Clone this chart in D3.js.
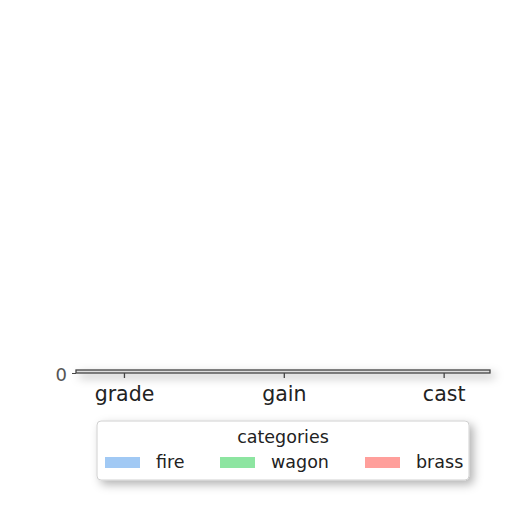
<!DOCTYPE html>
<html>
<head>
<meta charset="utf-8">
<script src="https://cdn.jsdelivr.net/npm/d3@7"></script>
<style>
html,body{margin:0;padding:0;background:#fff;}
svg{display:block;font-family:"DejaVu Sans",sans-serif;}
</style>
</head>
<body>
<svg id="chart" width="512" height="512"></svg>
<script>
const categories = ["grade", "gain", "cast"];
const seriesNames = ["fire", "wagon", "brass"];
const fireValues = [0, 0, 0];
const wagonValues = [0, 0, 0];
const brassValues = [0, 0, 0];
const yTicks = [0];
const colors = ["#a1c9f4", "#8de5a1", "#ff9f9b"];

(function(){
const seriesValues = [fireValues, wagonValues, brassValues];
const svg = d3.select("#chart");

const defs = svg.append("defs");
const f = defs.append("filter").attr("id","shadow").attr("x","-20%").attr("y","-800%").attr("width","140%").attr("height","1800%");
f.append("feDropShadow").attr("dx",4).attr("dy",4).attr("stdDeviation",5)
  .attr("flood-color","#000").attr("flood-opacity",0.3);

const pLeft = 76, pRight = 490, pTop = 370, pBottom = 373;
const x = d3.scaleLinear().domain([-0.3, 2.29]).range([pLeft, pRight]);
const y = d3.scaleLinear().domain([0, 1]).range([pBottom, pTop]);

svg.append("rect").attr("x",pLeft).attr("y",pTop).attr("width",pRight-pLeft).attr("height",pBottom-pTop)
  .attr("fill","#ddd").attr("stroke","#444").attr("stroke-width",1.3).attr("filter","url(#shadow)");

const g = svg.append("g");
const barW = 0.2;
seriesValues.forEach((vals, si) => {
  g.selectAll(null).data(vals).enter().append("rect")
    .attr("x",(d,i)=>x(i + (si-1)*barW - barW/2))
    .attr("width",x(barW)-x(0))
    .attr("y",d=>y(Math.max(d,0)))
    .attr("height",d=>Math.abs(y(0)-y(d)))
    .attr("fill",colors[si]);
});

const xAxis = d3.axisBottom(x).tickValues(categories.map((c,i)=>i)).tickFormat(i=>categories[i]).tickSize(5).tickSizeOuter(0);
const xg = g.append("g").attr("transform",`translate(0,${pBottom})`).call(xAxis);
xg.select(".domain").remove();
xg.selectAll(".tick line").attr("stroke","#444").attr("stroke-width",1.3);
xg.selectAll(".tick text").attr("font-size","20.5px").attr("fill","#222").attr("y",9).attr("dy","0.95em")
  .style("font-family","DejaVu Sans");

const yAxis = d3.axisLeft(y).tickValues(yTicks).tickFormat(d3.format("d")).tickSize(4).tickSizeOuter(0);
const yg = g.append("g").attr("transform",`translate(${pLeft},0)`).call(yAxis);
yg.select(".domain").remove();
yg.selectAll(".tick line").attr("stroke","#444");
yg.selectAll(".tick text").attr("font-size","18px").attr("fill","#555").attr("x",-9).attr("dy","0.4em")
  .style("font-family","DejaVu Sans");

const lg = svg.append("g");
lg.append("rect").attr("x",97).attr("y",421).attr("width",372).attr("height",59).attr("rx",4)
  .attr("fill","#fff").attr("stroke","#d0d0d0").attr("stroke-width",1).attr("filter","url(#shadow)");
lg.append("text").attr("x",283).attr("y",443).attr("text-anchor","middle")
  .attr("font-size","17.5px").attr("fill","#222").text("categories");
const entryX = [105, 220, 365];
seriesNames.forEach((n,i)=>{
  lg.append("rect").attr("x",entryX[i]).attr("y",457).attr("width",35).attr("height",11).attr("fill",colors[i]);
  lg.append("text").attr("x",entryX[i]+51).attr("y",468).attr("font-size","17.5px").attr("fill","#222").text(n);
});
})();
</script>
</body>
</html>
